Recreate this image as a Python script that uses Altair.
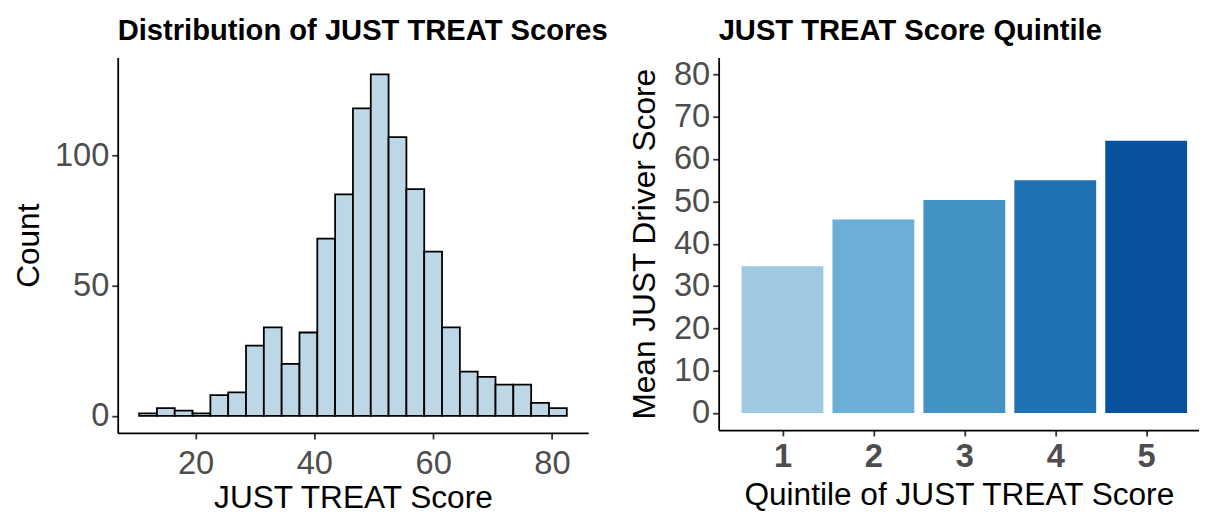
import altair as alt
import pandas as pd

# Histogram of JUST TREAT scores (bin width 3)
bin_centers = [12, 15, 18, 21, 24, 27, 30, 33, 36, 39, 42, 45,
               48, 51, 54, 57, 60, 63, 66, 69, 72, 75, 78, 81]
bin_counts = [1, 3, 2, 1, 8, 9, 27, 34, 20, 32, 68, 85,
              118, 131, 107, 87, 63, 34, 17, 15, 12, 12, 5, 3]

# Mean JUST driver score by quintile
quintiles = [1, 2, 3, 4, 5]
mean_driver = [34.7, 45.7, 50.3, 55.0, 64.3]
quintile_colors = ["#9ECAE1", "#6BAED6", "#4292C6", "#2171B5", "#08519C"]

hist_df = pd.DataFrame({"center": bin_centers, "count": bin_counts})
q_df = pd.DataFrame({"quintile": quintiles, "mean": mean_driver})

FONT = "Liberation Sans"

left = (
    alt.Chart(hist_df)
    .transform_calculate(lo="datum.center - 1.5", hi="datum.center + 1.5")
    .mark_bar(fill="#BDD7E7", stroke="black", strokeWidth=1.8)
    .encode(
        x=alt.X("lo:Q",
                scale=alt.Scale(domain=[6.9, 86.1], nice=False, zero=False),
                axis=alt.Axis(values=[20, 40, 60, 80], title="JUST TREAT Score",
                              labelPadding=9, titlePadding=2, format="d")),
        x2="hi:Q",
        y=alt.Y("count:Q",
                scale=alt.Scale(domain=[-6.55, 137.55], nice=False, zero=False),
                axis=alt.Axis(values=[0, 50, 100], title="Count",
                              labelPadding=3, titlePadding=9, format="d")),
        y2=alt.datum(0),
    )
    .properties(width=476, height=380,
                title=alt.TitleParams("Distribution of JUST TREAT Scores",
                                      frame="group"))
)

right = (
    alt.Chart(q_df)
    .transform_calculate(lo="datum.quintile - 0.45", hi="datum.quintile + 0.45")
    .mark_bar()
    .encode(
        x=alt.X("lo:Q",
                scale=alt.Scale(domain=[0.298, 5.581], nice=False, zero=False),
                axis=alt.Axis(values=quintiles, title="Quintile of JUST TREAT Score",
                              labelFontWeight="bold", labelPadding=5, titlePadding=6,
                              format="d")),
        x2="hi:Q",
        y=alt.Y("mean:Q",
                scale=alt.Scale(domain=[-4, 84], nice=False, zero=False),
                axis=alt.Axis(values=[0, 10, 20, 30, 40, 50, 60, 70, 80],
                              title="Mean JUST Driver Score",
                              labelPadding=3, titlePadding=12, format="d")),
        y2=alt.datum(0),
        color=alt.Color("quintile:O",
                        scale=alt.Scale(domain=quintiles, range=quintile_colors),
                        legend=None),
    )
    .properties(width=486, height=377,
                title=alt.TitleParams("JUST TREAT Score Quintile", frame="group"))
)

chart = (
    alt.hconcat(left, right, spacing=132, bounds="flush")
    .properties(padding={"left": 4, "top": 5, "right": 0, "bottom": 0})
    .configure_view(stroke=None)
    .configure_axis(
        grid=False,
        domainColor="black", domainWidth=1.8,
        tickColor="#333333", tickWidth=1.8, tickSize=6,
        labelFont=FONT, labelFontSize=33, labelColor="#4D4D4D",
        titleFont=FONT, titleFontSize=32, titleColor="black",
        titleFontWeight="normal",
    )
    .configure_title(font=FONT, fontSize=29.5, fontWeight="bold",
                     anchor="start", offset=11.5, color="black")
)

chart.save("out.html", embed_options={"renderer": "svg", "actions": False})
